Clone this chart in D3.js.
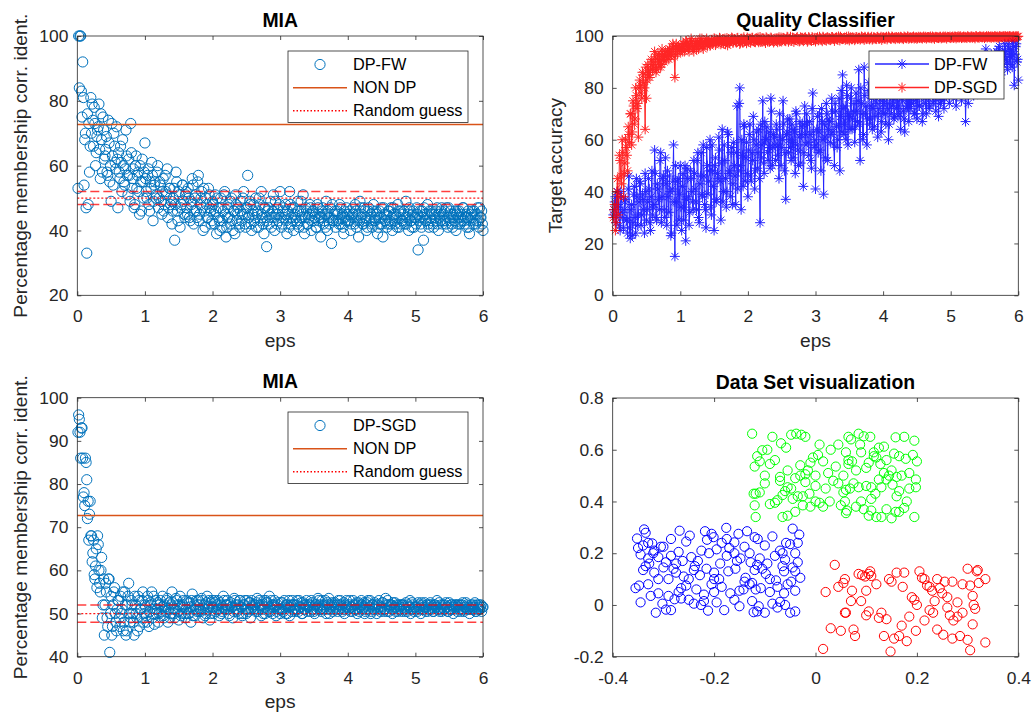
<!DOCTYPE html>
<html><head><meta charset="utf-8">
<script src="https://cdn.jsdelivr.net/npm/d3@7"></script>
<style>
body{margin:0;background:#fff}
svg{display:block}
text{font-family:"Liberation Sans",Arial,Helvetica,sans-serif}
</style>
</head><body>
<svg id="c" width="1033" height="713"></svg>
<script>
// ---------- DATA ----------
const eps = d3.range(1, 301).map(i => +(i * 0.02).toFixed(2));          // 0.02 .. 6.00
const epsOdd = d3.range(0, 300).map(i => +(0.01 + i * 0.02).toFixed(2)); // 0.01 .. 5.99

const miaFW = [
100,100,83,92,54,70,33,48,58,81,
79,66,73,64,71,79,56,68,75,62,
65,58,74,55,49,63,70,61,72,47,
58,66,52,60,54,71,57,62,49,64,
56,47,60,53,58,45,55,62,50,67,
52,57,48,55,61,43,54,50,58,47,
55,49,52,46,57,51,44,53,48,42,
50,37,58,46,52,41,48,54,45,51,
47,53,44,49,56,42,50,46,55,43,
48,52,40,46,50,44,53,47,42,49,
45,51,39,47,43,50,41,46,52,38,
44,48,42,50,40,46,51,43,47,41,
49,45,52,42,47,57,44,48,40,46,
43,50,45,41,48,52,44,39,47,35,
46,42,49,44,51,40,45,47,43,52,
41,46,44,48,39,45,52,42,47,40,
45,43,49,41,46,44,51,39,47,42,
44,48,40,46,43,45,41,47,44,38,
46,42,45,49,40,44,47,36,43,45,
41,46,43,48,42,45,39,44,47,43,
45,40,44,47,42,46,43,38,49,44,
42,47,44,40,46,43,45,41,48,44,
46,39,44,42,47,38,45,43,41,46,
43,47,40,45,42,44,48,41,46,43,
45,42,49,44,40,46,43,45,41,44,
47,34,44,42,46,37,45,43,48,41,
44,46,42,45,43,47,40,44,46,42,
45,43,47,41,44,46,42,45,43,40,
46,44,42,45,47,43,44,41,46,39,
44,46,42,45,43,47,41,44,46,40];

const miaFW2 = [
53,84,100,75,81,68,47,76,73,66,
70,74,78,60,69,72,65,76,58,71,
63,69,57,67,60,73,54,66,59,62,
64,56,61,68,55,59,63,51,57,73,
53,59,48,63,57,52,60,46,55,58,
56,50,59,46,53,57,49,55,51,60,
50,54,45,56,48,52,59,47,53,49,
46,53,48,55,43,51,47,54,49,44,
52,45,50,43,48,54,46,51,44,57,
45,50,47,53,41,48,44,51,46,43,
48,42,46,50,44,40,47,43,51,45,
41,47,44,49,43,46,39,48,45,42,
46,43,50,45,41,47,44,49,42,45,
48,44,41,46,50,43,45,42,47,44,
43,47,45,41,46,44,49,42,45,48,
44,42,47,45,43,46,41,48,44,43,
47,44,42,46,43,49,45,41,44,46,
42,45,47,43,46,44,41,48,43,45,
44,47,43,41,45,46,42,44,48,43,
46,43,45,42,47,44,41,46,43,45,
43,46,42,45,44,48,41,45,43,47,
45,42,46,43,41,47,44,42,46,43,
43,45,41,46,44,42,47,43,45,42,
46,42,44,47,43,45,41,46,44,42,
43,46,44,42,45,47,43,41,46,44,
42,45,43,46,41,44,47,43,45,42,
46,43,45,41,44,46,42,45,43,47,
43,46,42,44,47,43,45,41,44,46,
45,42,46,44,43,47,42,45,44,41,
43,45,44,46,42,45,43,47,44,42];

const miaSGD = [
96,92,93,86,78,86,81,76,73,68,
62,67,58,65,68,60,55,63,52,45,
57,49,58,41,54,47,55,50,46,53,
49,54,51,46,55,45,52,57,48,53,
50,45,52,49,54,47,51,53,48,52,
49.5,54,47,52.5,55,50,47.5,53,51,48,
52,50.5,54,49,51.5,53,48,52.5,50,55,
51,49,53.5,52,48.5,54,50,52,51.5,49,
53,50,52.5,48,54.5,51,49.5,53,52,50.5,
51,53.5,49,52,50,54,51.5,48.5,52.5,53,
50,52.5,51,53,49.5,52,50.5,54,51,52,
53,50,52,51.5,49,53.5,52,50.5,51,53,
51.5,49.5,52,53,50,51,52.5,49,53,51.5,
52,50.5,53.5,51,52,49.5,51,53,50,52.5,
51,54,50.5,52,51.5,53,49.5,52,51,50,
52.5,51,53,50,52,51.5,49.5,52,53,51,
50.5,52,51,53,51.5,50,52.5,51,52,50.5,
52,51.5,53,51,50.5,52,51,53.5,52,51,
53,51,52,50,52.5,53.5,51,52,50.5,52,
51.5,52,53,51,52,50.5,52.5,51,53,51.5,
52,50.5,51.5,53,51,52,50,52.5,51.5,53,
51,52.5,50.5,52,53,51.5,50,52,51,52.5,
52,51,53,50.5,51.5,52.5,51,53.5,50.5,52,
51.5,52,50,51,52.5,51.5,50.5,52,51,50.5,
52,51,52.5,50.5,51.5,53,51,52,50.5,51.5,
51,52.5,51.5,50,52,51,52.5,51.5,50.5,52,
52.5,51,50.5,52,51.5,53,51,50.5,52,51.5,
51,52,51.5,50.5,52.5,51,52,50,51.5,52,
50.5,51.5,52,51,52.5,50.5,51.5,52,51,50,
52,51,51.5,52.5,50.5,51,52,51.5,50.5,51.5];

const miaSGD2 = [
92,95,86,93,77,75,85,72,67,76,
68,64,59,61,56,66,57,60,49,58,
52,55,47,58,50,45,52,56,48,51,
53,47,50,55,48,52,46,54,50,49,
52,48,54,50,46,53,51,49,55,50,
51.5,48,53,50.5,52,49,54,51,50,52.5,
50,53,51.5,49.5,52,50.5,53.5,51,49,52,
52.5,50,51,53,50.5,52,49.5,51.5,53,50,
51,52.5,50,51.5,53,49.5,52,51,50.5,53,
52,50.5,53,51,49.5,52.5,51,53,50,51.5,
51.5,53,50.5,52,51,52.5,50,51.5,53,51,
52,51,49.5,52.5,51.5,50.5,53,51,52,50,
53,51.5,50,52,51,53,50.5,52.5,51,52,
51,52,52.5,50.5,53,51.5,52,50,51.5,53,
52.5,50.5,51.5,53,50,52,51.5,50.5,52.5,51,
51,52.5,50.5,51.5,52,50,53,51.5,50.5,52,
52,51,53,50.5,51.5,52.5,50,52,51,53,
51.5,52,50.5,52.5,51,50,52,51.5,53,51,
50.5,52,51.5,53,51,52,50,51.5,52.5,51,
52.5,51,50.5,52,53,51.5,51,50,52,51.5,
51,53,51.5,50.5,52,51,52.5,51,50.5,52,
52,51.5,50,51,52.5,51,53,50.5,52,51,
51.5,50,52,51.5,51,52.5,50.5,51,52,53,
50.5,52,51,52.5,51.5,50.5,52,51,51.5,52,
52,51.5,50.5,51,52,51.5,50,52.5,51,51.5,
51.5,50.5,52,51,52.5,51,51.5,50.5,52,51,
51,52,51.5,50.5,52,51.5,51,52.5,51,50.5,
52,51,52.5,51.5,50.5,51,52,51.5,51,52,
51.5,52,51,50.5,52,51,51.5,52.5,51,51.5,
51,51.5,52,51,50.5,52,51.5,51,52,51.5];

const accFW = [
33,38,30,35,27,40,32,26,36,29,
24,46,22,35,28,42,24,38,31,44,
27,39,33,47,29,36,41,25,48,34,
56,30,43,37,52,28,45,33,53,27,
38,46,23,41,58,15,36,44,29,50,
25,47,34,21,49,38,32,45,36,52,
41,33,55,28,46,39,58,35,26,50,
44,60,31,48,25,53,37,45,56,29,
64,40,52,34,63,47,38,57,43,50,
35,73,48,80,33,54,66,44,59,38,
62,46,55,69,41,58,49,64,28,53,
75,47,60,65,52,57,76,50,62,58,
66,54,45,61,57,75,48,37,63,55,
68,52,59,64,47,70,56,61,51,65,
42,73,58,66,54,62,49,78,57,41,
64,55,70,48,67,39,61,74,52,68,
59,76,63,50,71,57,66,48,79,85,
62,73,81,58,69,76,64,71,59,78,
67,87,52,74,60,88,70,58,79,66,
73,64,80,69,76,61,72,84,67,70,
78,66,74,60,81,70,75,68,83,72,
69,79,64,76,71,63,80,73,67,77,
74,82,70,77,68,86,73,79,67,81,
76,70,84,72,78,88,74,80,71,77,
69,83,75,79,72,86,77,81,74,85,
80,76,88,73,82,78,90,75,84,79,
67,83,74,86,80,92,77,85,81,88,
84,79,91,82,87,95,80,89,85,93,
86,90,83,94,88,96,85,92,89,97,
91,87,95,89,93,98,81,96,90,83];

const accFW2 = [
31,36,28,40,34,25,38,30,33,37,
29,41,26,33,23,39,30,45,27,36,
43,31,37,24,40,33,45,28,38,31,
35,47,29,41,33,55,38,46,30,43,
48,32,40,24,44,36,50,27,45,39,
34,42,29,50,37,45,27,48,40,33,
47,36,52,30,43,55,38,46,33,57,
39,48,34,58,42,50,36,47,61,44,
51,36,58,45,40,62,48,55,35,59,
46,55,41,74,50,60,42,65,53,47,
56,66,44,52,60,48,63,55,45,66,
58,51,67,60,55,63,49,71,57,61,
52,64,58,70,50,60,66,55,62,68,
60,57,66,53,63,71,58,50,67,62,
66,55,62,70,59,67,52,72,63,60,
58,69,63,56,72,60,66,53,70,64,
67,62,71,58,74,65,60,76,69,63,
72,66,60,77,70,64,80,68,74,65,
71,75,66,80,70,62,77,73,68,82,
68,76,72,65,79,74,70,77,63,75,
74,70,79,72,66,77,73,80,69,76,
77,73,70,80,75,68,78,72,84,74,
72,78,75,70,81,76,73,83,77,70,
79,74,80,76,73,82,78,75,84,79,
81,77,74,83,79,76,85,80,78,82,
78,84,81,86,77,83,80,87,82,85,
84,80,87,82,88,84,79,89,86,83,
88,85,82,90,86,89,84,92,87,90,
91,87,93,89,85,95,90,88,94,92,
94,90,97,92,95,88,96,93,97,91];

const accSGD = [
33,25,40,31,54,46,60,38,51,57,
48,62,70,58,75,66,80,72,61,83,
78,86,82,64,76,89,85,87,90,88,
94,86,91,88,93,89,92,90,94,91,
93,95,92,94,96,84,97,93,96,94,
95,97,94,98,96,95,97,99,96,94,
97,95,98,96,97,99,95,97,98,96,
97.5,96.2,98.4,97,99.1,96.5,98,97.8,99.3,96.8,
98.2,97.1,99,97.6,96.4,98.7,97.9,99.4,97.3,98.5,
97.8,99.2,98.1,96.9,98.8,97.5,99.5,98.3,97.2,99,
98.6,97.4,99.3,98,97.7,99.1,98.4,97.6,99.6,98.2,
97.9,98.9,97.3,99.2,98.5,97.8,99.4,98.1,97.5,99,
98.7,97.6,99.5,98.2,97.9,99.3,98.4,98,99.7,97.8,
98.9,98.1,99.4,97.7,98.6,99.2,98.3,97.9,99.5,98.5,
98,99.3,98.7,97.8,99.6,98.4,98.1,99.2,98.6,97.9,
99.1,98.3,99.7,98.5,98,99.4,98.8,98.2,99.5,98.6,
98.4,99.6,98.9,98.1,99.3,98.7,99.8,98.3,99,98.8,
99.2,98.5,99.7,98.9,98.3,99.5,98.7,99.1,98.4,99.6,
98.8,99.3,98.6,99.8,99,98.5,99.4,98.9,99.7,98.7,
99.1,98.6,99.5,99,98.8,99.7,98.9,99.3,98.5,99.6,
99,99.4,98.7,99.8,99.2,98.9,99.6,99.1,98.8,99.5,
99.3,98.9,99.7,99.1,98.8,99.5,99.2,99.8,98.9,99.4,
99.1,99.6,99,99.3,98.9,99.7,99.2,99.5,99,99.8,
99.4,99,99.6,99.2,99.8,99.1,99.5,98.9,99.7,99.3,
99.2,99.7,99.1,99.5,99.3,99.8,99,99.6,99.4,99.2,
99.6,99.3,99.8,99.1,99.5,99.4,99.9,99.2,99.6,99.3,
99.5,99.2,99.7,99.4,99.8,99.3,99.6,99.1,99.9,99.4,
99.3,99.7,99.5,99.8,99.2,99.6,99.4,99.9,99.5,99.3,
99.7,99.4,99.8,99.5,99.3,99.9,99.6,99.4,99.8,99.5,
99.6,99.8,99.4,99.9,99.5,99.7,99.3,99.8,99.6,99.9];

const accSGD2 = [
30,35,28,45,38,52,43,55,47,60,
54,65,59,70,63,73,68,77,74,80,
81,76,85,80,88,83,86,84,91,87,
89,92,87,93,90,88,95,91,93,92,
94,91,95,93,97,92,95,94,96,95,
96,94,97,95,98,96,94,97,98,95,
96,98,97,95,99,97,96,98,97,99,
98.1,97.3,96.9,98.6,97.6,98.9,97.1,98.3,97.7,99,
97.4,98.8,98,96.8,99.2,98.4,97.2,98.7,99.1,97.9,
98.6,97.6,99.3,98.2,97.4,99,98.7,97.9,98.5,99.4,
97.8,99,98.5,99.3,98.1,97.6,98.9,99.4,98.3,97.7,
99.2,98.4,98,99.5,97.9,98.8,98.2,99.1,98.6,98,
98.3,99.2,98.9,97.9,99.4,98.6,99,98.2,98.8,99.5,
98.5,99.7,98.2,99,98.7,98.4,99.6,98.8,98.1,99.2,
99.3,98.6,99.5,98.9,98.3,99.1,98.7,99.6,98.4,99.3,
98.7,99.5,98.9,99.2,98.6,99.7,98.5,99.1,99.4,98.8,
99.2,98.8,99.6,99.1,98.9,99.5,98.6,99.3,99.7,99,
98.9,99.4,99.1,98.7,99.8,99.2,98.8,99.5,99.3,98.9,
99.5,99,99.3,98.9,99.6,99.2,99.7,98.8,99.4,99.1,
99.3,99.7,98.9,99.4,99.1,99.6,99.2,99,99.7,99.2,
99.4,99.1,99.7,99.3,99.5,99,99.8,99.2,99.4,99.6,
99.1,99.6,99.3,99.5,99.2,99.8,99.4,99.1,99.7,99.3,
99.5,99.3,99.8,99.4,99.6,99.2,99.5,99.7,99.3,99.6,
99.3,99.7,99.4,99.6,99.5,99.3,99.8,99.4,99.6,99.5,
99.6,99.4,99.7,99.3,99.8,99.5,99.4,99.7,99.6,99.8,
99.5,99.8,99.4,99.7,99.6,99.9,99.5,99.7,99.4,99.8,
99.7,99.5,99.9,99.6,99.4,99.8,99.7,99.5,99.9,99.6,
99.6,99.9,99.7,99.5,99.8,99.6,99.9,99.7,99.6,99.8,
99.8,99.6,99.9,99.7,99.8,99.5,99.9,99.7,99.8,99.9,
99.9,99.7,99.8,99.9,99.6,99.8,99.9,99.7,99.9,99.8];

const nonDP = 72.7;
const randomGuess = 50;
const bandHigh = 52, bandLow = 48;

const clusterBlue = [
[-0.352,0.257],[-0.338,0.292],[-0.335,0.279],[-0.322,0.238],[-0.305,0.225],[-0.285,0.255],[-0.268,0.287],[-0.255,0.245],[-0.248,0.268],[-0.218,0.285],[-0.214,0.252],[-0.205,0.275],[-0.201,0.262],[-0.176,0.298],[-0.175,0.255],[-0.16,0.242],[-0.152,0.275],[-0.135,0.285],[-0.12,0.262],[-0.114,0.255],[-0.085,0.265],[-0.045,0.295],[-0.032,0.272],[-0.058,0.240],
[-0.35,0.22],[-0.345,0.195],[-0.33,0.24],[-0.33,0.18],[-0.328,0.16],[-0.318,0.21],[-0.30,0.225],[-0.295,0.165],[-0.285,0.19],[-0.27,0.205],[-0.262,0.17],[-0.245,0.185],[-0.238,0.15],[-0.225,0.21],[-0.21,0.2],[-0.195,0.215],[-0.188,0.16],[-0.17,0.22],[-0.16,0.2],[-0.148,0.18],[-0.14,0.225],[-0.128,0.165],[-0.115,0.155],[-0.095,0.16],[-0.08,0.19],[-0.07,0.21],[-0.06,0.175],[-0.05,0.235],[-0.04,0.2],[-0.035,0.165],[-0.045,0.145],[-0.065,0.15],[-0.155,0.17],[-0.275,0.16],[-0.31,0.185],[-0.335,0.15],
[-0.34,0.135],[-0.318,0.125],[-0.30,0.145],[-0.29,0.10],[-0.275,0.125],[-0.26,0.11],[-0.24,0.135],[-0.228,0.115],[-0.215,0.14],[-0.20,0.125],[-0.19,0.1],[-0.172,0.13],[-0.158,0.14],[-0.138,0.105],[-0.12,0.135],[-0.105,0.14],[-0.098,0.12],[-0.078,0.095],[-0.062,0.13],[-0.04,0.13],[-0.03,0.105],[-0.048,0.09],[-0.14,0.09],[-0.2,0.1],[-0.31,0.1],
[-0.355,0.065],[-0.348,0.075],[-0.33,0.08],[-0.31,0.045],[-0.29,0.035],[-0.27,0.05],[-0.255,0.075],[-0.235,0.06],[-0.22,0.04],[-0.205,0.08],[-0.185,0.07],[-0.168,0.045],[-0.15,0.055],[-0.13,0.08],[-0.125,0.085],[-0.118,0.06],[-0.108,0.065],[-0.09,0.05],[-0.075,0.07],[-0.062,0.045],[-0.04,0.055],[-0.055,0.08],[-0.142,0.06],[-0.265,0.065],[-0.325,0.035],
[-0.345,0.01],[-0.315,-0.03],[-0.302,0.005],[-0.285,-0.02],[-0.278,0.022],[-0.265,0.025],[-0.24,0.005],[-0.226,0.0],[-0.212,-0.022],[-0.195,0.01],[-0.18,-0.02],[-0.16,0.02],[-0.15,-0.005],[-0.125,0.015],[-0.122,-0.028],[-0.115,-0.025],[-0.112,-0.005],[-0.1,-0.03],[-0.085,0.005],[-0.07,0.012],[-0.06,0.0],[-0.05,-0.03],[-0.04,-0.025],[-0.075,-0.01],[-0.295,-0.018],[-0.22,0.015],
[-0.34,0.23],[-0.32,0.2],[-0.28,0.14],[-0.25,0.1],[-0.232,0.17],[-0.185,0.24],[-0.13,0.2],[-0.1,0.23],[-0.09,0.1],[-0.065,0.2],[-0.035,0.24],[-0.25,0.02],[-0.2,0.05],[-0.175,0.19],[-0.11,0.18]];

const clusterGreen = [
[-0.125,0.662],[-0.085,0.65],[-0.068,0.625],[-0.058,0.608],[-0.048,0.658],[-0.038,0.662],[-0.028,0.658],[-0.02,0.65],[0.008,0.62],[0.065,0.65],[0.07,0.64],[0.085,0.662],[0.095,0.652],[0.108,0.65],[0.158,0.648],[0.175,0.65],[0.195,0.635],[0.125,0.608],[0.135,0.612],[0.115,0.59],[-0.105,0.598],[0.06,0.59],[0.088,0.62],
[-0.115,0.575],[-0.12,0.535],[-0.11,0.555],[-0.095,0.6],[-0.09,0.545],[-0.1,0.5],[-0.07,0.495],[-0.04,0.49],[-0.03,0.54],[-0.015,0.52],[-0.01,0.55],[-0.005,0.57],[-0.02,0.505],[0.005,0.58],[0.015,0.555],[0.025,0.51],[0.04,0.535],[0.055,0.5],[0.065,0.545],[0.072,0.555],[0.08,0.52],[0.09,0.59],[0.1,0.53],[0.105,0.55],[0.115,0.575],[0.12,0.57],[0.128,0.545],[0.14,0.56],[0.15,0.52],[0.155,0.585],[0.165,0.575],[0.178,0.565],[0.192,0.58],[0.2,0.555],[0.185,0.51],[0.17,0.5],[0.16,0.495],[0.135,0.51],[0.065,0.56],[-0.055,0.52],[-0.03,0.5],
[-0.118,0.43],[-0.122,0.43],[-0.11,0.435],[-0.08,0.395],[-0.075,0.405],[-0.065,0.425],[-0.06,0.44],[-0.055,0.455],[-0.048,0.45],[-0.045,0.41],[-0.035,0.42],[-0.025,0.42],[-0.012,0.43],[0.0,0.4],[0.008,0.395],[0.02,0.45],[0.035,0.48],[0.045,0.47],[0.055,0.435],[0.058,0.4],[0.06,0.445],[0.068,0.45],[0.075,0.47],[0.085,0.455],[0.1,0.46],[0.11,0.455],[0.118,0.43],[0.13,0.455],[0.14,0.485],[0.145,0.5],[0.152,0.465],[0.165,0.44],[0.18,0.4],[0.198,0.485],[0.198,0.455],[0.125,0.485],[-0.02,0.475],[0.0,0.46],[-0.07,0.48],
[-0.12,0.385],[-0.118,0.34],[-0.065,0.34],[-0.055,0.345],[-0.04,0.36],[-0.025,0.385],[-0.01,0.38],[0.015,0.38],[0.05,0.385],[0.06,0.355],[0.062,0.365],[0.08,0.38],[0.095,0.37],[0.105,0.345],[0.11,0.365],[0.12,0.34],[0.13,0.34],[0.14,0.37],[0.15,0.335],[0.158,0.36],[0.165,0.36],[0.175,0.375],[0.195,0.34],[-0.09,0.39],[0.028,0.4],[0.09,0.4],
[-0.1,0.47],[-0.08,0.56],[0.03,0.6],[0.045,0.62],[0.16,0.42],[0.185,0.45],[0.11,0.41],[0.0,0.5]];

const clusterRed = [
[0.038,0.155],[0.02,0.05],[0.015,-0.17],[0.03,-0.09],[0.055,0.085],[0.058,0.1],[0.058,-0.03],[0.072,0.055],[0.075,-0.095],[0.078,-0.12],[0.07,0.015],[0.085,0.12],[0.092,0.115],[0.098,0.11],[0.105,0.12],[0.108,0.13],[0.11,0.112],[0.1,0.055],[0.1,-0.04],[0.105,-0.025],[0.13,-0.03],[0.14,-0.055],[0.135,-0.12],[0.148,-0.18],[0.15,0.09],[0.16,0.125],[0.165,-0.12],[0.175,0.125],[0.172,0.07],[0.18,-0.14],[0.185,-0.045],[0.195,0.02],[0.2,0.0],[0.198,-0.1],[0.205,0.13],[0.21,0.105],[0.215,0.1],[0.22,0.075],[0.225,0.07],[0.23,0.055],[0.232,-0.03],[0.235,0.015],[0.245,0.065],[0.25,0.045],[0.255,0.09],[0.24,-0.095],[0.252,-0.115],[0.26,-0.01],[0.265,-0.04],[0.27,-0.13],[0.272,-0.06],[0.28,-0.045],[0.285,-0.12],[0.29,-0.03],[0.3,0.14],[0.305,0.075],[0.31,0.035],[0.312,0.0],[0.315,-0.015],[0.31,-0.075],[0.32,0.135],[0.318,0.13],[0.3,-0.135],[0.305,-0.175],[0.335,0.1],[0.335,-0.145],[0.322,0.085],[0.29,0.08],[0.27,0.09],[0.06,-0.03],[0.045,0.07],[0.09,0.015],[0.12,0.08],[0.125,-0.05],[0.155,-0.13],[0.215,-0.06],[0.225,-0.02],[0.145,0.1],[0.19,0.03],[0.26,0.03],[0.28,0.01],[0.05,-0.1],[0.17,-0.08],[0.24,0.1]];

const epsTicks = [0,1,2,3,4,5,6];
const epsTickLabels = ["0","1","2","3","4","5","6"];
const miaFWTicks = [20,40,60,80,100];
const accTicks = [0,20,40,60,80,100];
const miaSGDTicks = [40,50,60,70,80,90,100];
const vizXTicks = [-0.4,-0.2,0,0.2,0.4];
const vizXTickLabels = ["-0.4","-0.2","0","0.2","0.4"];
const vizYTicks = [-0.2,0,0.2,0.4,0.6,0.8];
const vizYTickLabels = ["-0.2","0","0.2","0.4","0.6","0.8"];

// ---------- STYLE ----------
const AX = "#262626";
const TICK_FS = 17.4, LABEL_FS = 19.2, TITLE_FS = 19.4, LEG_FS = 16.3;
const C_MIA = "#0072BD", C_NON = "#D95319";

const svg = d3.select("#c");

function panel(p) {
  const x = d3.scaleLinear().domain(p.xd).range([p.x0, p.x1]);
  const y = d3.scaleLinear().domain(p.yd).range([p.y1, p.y0]);
  return {x, y, p};
}

function frame(P, xt, xl, yt, yl) {
  const {x, y, p} = P;
  const g = svg.append("g");
  const fmt = (arr, ticks) => (d => arr[ticks.indexOf(d)]);
  g.append("g").attr("transform", `translate(0,${p.y1})`)
    .call(d3.axisBottom(x).tickValues(xt).tickFormat(fmt(xl, xt)).tickSizeInner(-4).tickSizeOuter(0).tickPadding(14.5));
  g.append("g").attr("transform", `translate(0,${p.y0})`)
    .call(d3.axisTop(x).tickValues(xt).tickFormat("").tickSizeInner(-4).tickSizeOuter(0));
  g.append("g").attr("transform", `translate(${p.x0},0)`)
    .call(d3.axisLeft(y).tickValues(yt).tickFormat(fmt(yl, yt)).tickSizeInner(-4).tickSizeOuter(0).tickPadding(9));
  g.append("g").attr("transform", `translate(${p.x1},0)`)
    .call(d3.axisRight(y).tickValues(yt).tickFormat("").tickSizeInner(-4).tickSizeOuter(0));
  g.selectAll(".domain").remove();
  g.selectAll(".tick line").attr("stroke", AX).attr("stroke-width", 0.8);
  g.selectAll(".tick text").attr("fill", AX).style("font-size", TICK_FS + "px")
    .style("font-family", '"Liberation Sans",Arial,Helvetica,sans-serif');
  g.append("rect").attr("x", p.x0).attr("y", p.y0).attr("width", p.x1 - p.x0).attr("height", p.y1 - p.y0)
    .attr("fill", "none").attr("stroke", AX).attr("stroke-width", 0.8);
  svg.append("text").attr("x", (p.x0 + p.x1) / 2).attr("y", p.y0 - 9.5).attr("text-anchor", "middle")
    .attr("font-weight", "bold").attr("font-size", TITLE_FS).attr("fill", "#000").text(p.title);
  if (p.xlabel) svg.append("text").attr("x", (p.x0 + p.x1) / 2).attr("y", p.y1 + 51.3).attr("text-anchor", "middle")
    .attr("font-size", LABEL_FS).attr("fill", AX).text(p.xlabel);
  if (p.ylabel) svg.append("text").attr("transform", `translate(${p.x0 - 50.8},${(p.y0 + p.y1) / 2}) rotate(-90)`)
    .attr("text-anchor", "middle").attr("font-size", LABEL_FS).attr("fill", AX).text(p.ylabel);
}

function hline(P, v, color, width, dash, op) {
  const {x, y, p} = P;
  svg.append("line").attr("x1", x(p.xd[0])).attr("x2", x(p.xd[1])).attr("y1", y(v)).attr("y2", y(v))
    .attr("stroke", color).attr("stroke-width", width).attr("stroke-dasharray", dash || null).attr("opacity", op || 1);
}

function circles(P, pts, color, r) {
  const {x, y} = P;
  svg.append("g").selectAll("circle").data(pts).join("circle")
    .attr("cx", d => x(d[0])).attr("cy", d => y(d[1])).attr("r", r)
    .attr("fill", "none").attr("stroke", color).attr("stroke-width", 1);
}

function starPath(cx, cy, r) {
  const d = r * 0.707;
  return `M${cx - r},${cy}H${cx + r}M${cx},${cy - r}V${cy + r}M${cx - d},${cy - d}L${cx + d},${cy + d}M${cx - d},${cy + d}L${cx + d},${cy - d}`;
}

// merge the two interleaved eps grids (0.01,0.02,0.03,...) into one ordered series
function merged(a, b) {
  const out = [];
  for (let i = 0; i < eps.length; i++) { out.push([epsOdd[i], b[i]]); out.push([eps[i], a[i]]); }
  return out;
}

function starLine(P, pts, color, op) {
  const {x, y} = P;
  const g = svg.append("g").attr("opacity", op);
  g.append("path").attr("d", d3.line().x(d => x(d[0])).y(d => y(d[1]))(pts))
    .attr("fill", "none").attr("stroke", color).attr("stroke-width", 1);
  g.append("path").attr("d", pts.map(d => starPath(x(d[0]), y(d[1]), 5)).join(""))
    .attr("fill", "none").attr("stroke", color).attr("stroke-width", 1);
}

function legendBox(x0, y0, w, h) {
  svg.append("rect").attr("x", x0).attr("y", y0).attr("width", w).attr("height", h)
    .attr("fill", "#fff").attr("stroke", AX).attr("stroke-width", 0.8);
}
function legText(x, y, t) {
  svg.append("text").attr("x", x).attr("y", y).attr("dy", "0.35em").attr("font-size", LEG_FS).attr("fill", "#000").text(t);
}

// ---------- PANELS ----------
const TL = panel({x0: 77.3, x1: 483, y0: 36, y1: 295.3, xd: [0, 6], yd: [20, 100],
  title: "MIA", xlabel: "eps", ylabel: "Percentage membership corr. ident."});
const TR = panel({x0: 612.7, x1: 1018.3, y0: 36, y1: 295.3, xd: [0, 6], yd: [0, 100],
  title: "Quality Classifier", xlabel: "eps", ylabel: "Target accuracy"});
const BL = panel({x0: 77.3, x1: 483, y0: 397.7, y1: 656.7, xd: [0, 6], yd: [40, 100],
  title: "MIA", xlabel: "eps", ylabel: "Percentage membership corr. ident."});
const BR = panel({x0: 612.7, x1: 1018.3, y0: 398, y1: 656.7, xd: [-0.4, 0.4], yd: [-0.2, 0.8],
  title: "Data Set visualization"});

function miaPanel(P, vals, vals2, yt, name, legTop) {
  circles(P, merged(vals, vals2), C_MIA, 5.1);
  hline(P, nonDP, C_NON, 1.4);
  hline(P, bandHigh, "#ff0000", 1.5, "9,4", 0.75);
  hline(P, bandLow, "#ff0000", 1.5, "9,4", 0.75);
  hline(P, randomGuess, "#ff0000", 1.3, "2,2", 0.9);
  frame(P, epsTicks, epsTickLabels, yt, yt.map(String));
  legendBox(288, legTop, 180, 71.5);
  const r1 = legTop + 13.5, r2 = legTop + 36.8, r3 = legTop + 59.8;
  svg.append("circle").attr("cx", 320).attr("cy", r1).attr("r", 5.1).attr("fill", "none").attr("stroke", C_MIA);
  svg.append("line").attr("x1", 293).attr("x2", 347).attr("y1", r2).attr("y2", r2).attr("stroke", C_NON).attr("stroke-width", 1.4);
  svg.append("line").attr("x1", 293).attr("x2", 347).attr("y1", r3).attr("y2", r3).attr("stroke", "#ff0000").attr("stroke-width", 1.4).attr("stroke-dasharray", "1.5,2");
  legText(353, legTop + 13.5, name);
  legText(353, legTop + 36.5, "NON DP");
  legText(353, legTop + 59.5, "Random guess");
}
miaPanel(TL, miaFW, miaFW2, miaFWTicks, "DP-FW", 51);
miaPanel(BL, miaSGD, miaSGD2, miaSGDTicks, "DP-SGD", 412);

// Quality classifier
starLine(TR, merged(accFW, accFW2), "#0000ff", 0.85);
starLine(TR, merged(accSGD, accSGD2), "#ff0000", 0.85);
frame(TR, epsTicks, epsTickLabels, accTicks, accTicks.map(String));
legendBox(869, 51, 135, 48);
[["DP-FW", "#0000ff", 64], ["DP-SGD", "#ff0000", 87.5]].forEach(([n, c, yy]) => {
  const g = svg.append("g").attr("opacity", 0.85);
  g.append("line").attr("x1", 875).attr("x2", 929).attr("y1", yy).attr("y2", yy).attr("stroke", c).attr("stroke-width", 1.3);
  g.append("path").attr("d", starPath(902, yy, 5)).attr("stroke", c).attr("fill", "none");
  legText(934, yy, n);
});

// Data set visualization
circles(BR, clusterBlue, "#0000ff", 4.6);
circles(BR, clusterGreen, "#00ff00", 4.6);
circles(BR, clusterRed, "#ff0000", 4.6);
frame(BR, vizXTicks, vizXTickLabels, vizYTicks, vizYTickLabels);
</script>
</body></html>
